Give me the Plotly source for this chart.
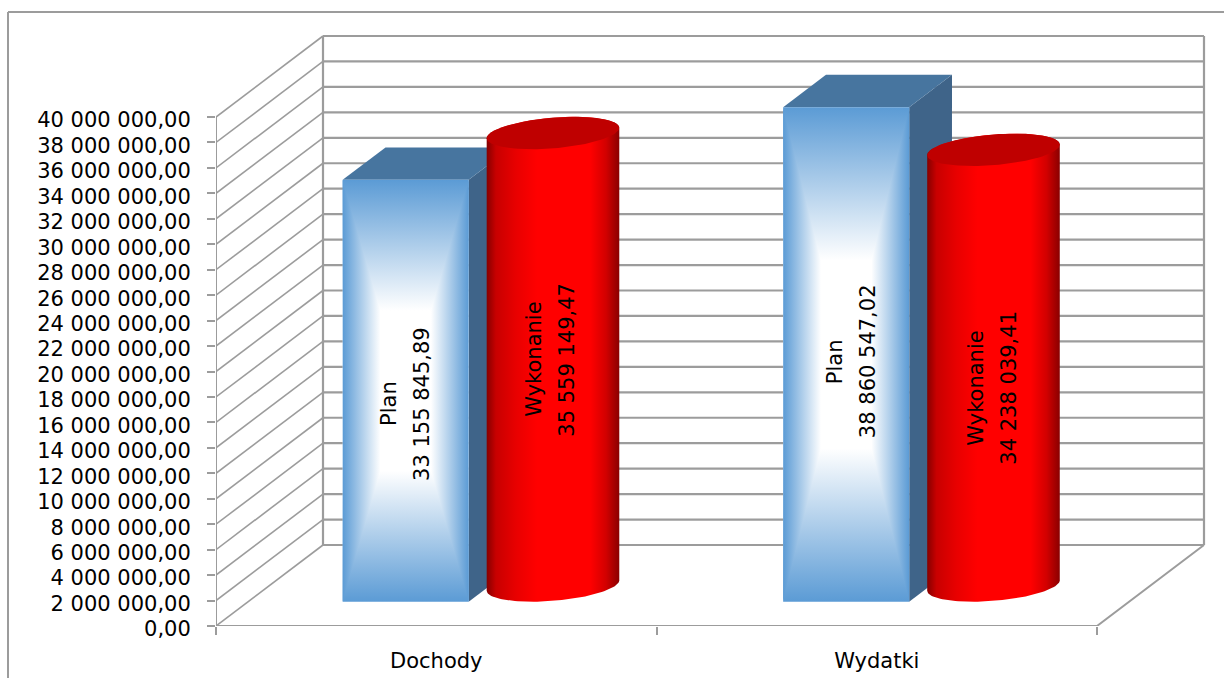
import numpy as np
import plotly.graph_objects as go

# ---------- data ----------
categories = ["Dochody", "Wydatki"]
plan_name = "Plan"
actual_name = "Wykonanie"
plan_values = [33155845.89, 38860547.02]
actual_values = [35559149.47, 34238039.41]
value_ticks = list(range(0, 40000001, 2000000))

# ---------- geometry of the pseudo-3D plot (pixels per unit) ----------
W, H = 1224, 678
PX_X0, PX_Y0 = 216, 626          # origin of the front plane
PX_PER_CAT = 440.5
PX_PER_VAL = 509 / 40e6
WALL_DX = 107 / PX_PER_CAT       # x shift of full depth, in category units
WALL_DY = 81 / PX_PER_VAL        # y shift of full depth, in value units
BAR_Z0, BAR_DZ = 0.30, 0.40      # depth where the bars start / their depth
BOX_LEFT, BOX_W = 0.2876, 0.286
CYL_CX, CYL_HALF = 0.765, 0.1505
X_MAX_PX, Y_TOP_PX = 1216, 20
x_top = (X_MAX_PX - PX_X0) / PX_PER_CAT
y_top = (PX_Y0 - Y_TOP_PX) / PX_PER_VAL
y_max = value_ticks[-1]

GRID = "#9c9c9c"
BLUE = "#5B9BD5"
BOX_TOP = "#47759F"
BOX_SIDE = "#3F6489"
CYL_TOP = "#BF0000"
CYL_SCALE = [[0, "#860000"], [0.07, "#c80000"], [0.22, "#e80000"], [0.38, "#ff0000"],
             [0.78, "#ff0000"], [0.90, "#d20000"], [1, "#8a0000"]]
FONT = "DejaVu Sans"
FS = 21
CORE_X, CORE_Y = 0.30, 0.31      # share of the front face taken by each gradient ramp
WHITE_SCALE_IN = [[0, BLUE], [1, "#ffffff"]]
WHITE_SCALE_OUT = [[0, "#ffffff"], [1, BLUE]]
UNDER_SCALE = [[0, BLUE], [CORE_Y, "#ffffff"], [1 - CORE_Y, "#ffffff"], [1, BLUE]]


def proj(x, v, z):
    return x + z * WALL_DX, v + z * WALL_DY


fig = go.Figure()


def lines(xs, ys, width=1.6, color=GRID):
    fig.add_trace(go.Scatter(x=xs, y=ys, mode="lines", line=dict(color=color, width=width),
                             hoverinfo="skip", showlegend=False, cliponaxis=False))


def poly(xs, ys, color=None, gradient=None):
    kw = dict(fillgradient=gradient) if gradient else dict(fillcolor=color)
    fig.add_trace(go.Scatter(x=list(xs) + [xs[0]], y=list(ys) + [ys[0]], mode="lines", fill="toself",
                             line=dict(width=0, color="rgba(0,0,0,0)"),
                             hoverinfo="skip", showlegend=False, cliponaxis=False, **kw))


# ---------- walls ----------
n_cat = len(categories)
bx, by = proj(0, 0, 1)
side_x, side_y, back_x, back_y = [], [], [], []
for v in value_ticks:
    x1, y1 = proj(0, v, 1)
    side_x += [0, x1, None]
    side_y += [v, y1, None]
    x2, y2 = proj(n_cat, v, 1)
    back_x += [x1, x2, None]
    back_y += [y1, y2, None]
lines(side_x, side_y, 1.6)
lines(back_x, back_y, 2.2)
tx, ty = proj(0, y_max, 1)
rx, ry = proj(n_cat, 0, 1)
rtx, rty = proj(n_cat, y_max, 1)
lines([bx, tx], [by, ty], 2.2)
lines([rx, rtx], [ry, rty], 2.2)
lines([0, 0, None, 0, n_cat, rx], [0, y_max, None, 0, 0, ry], 2.0)


# ---------- bars ----------
def box(cat, value):
    x0, x1 = cat + BOX_LEFT, cat + BOX_LEFT + BOX_W
    _, b = proj(0, 0, BAR_Z0)
    t = b + value
    # side and top faces
    x0b, tb = proj(x0, t, BAR_DZ)
    x1b, _ = proj(x1, t, BAR_DZ)
    _, bb = proj(x1, b, BAR_DZ)
    poly([x1, x1b, x1b, x1], [b, bb, tb, t], BOX_SIDE)
    poly([x0, x1, x1b, x0b], [t, t, tb, tb], BOX_TOP)
    # front face: rectangular path gradient built from an underlay, four trapezoids and a white core
    ix0, ix1 = x0 + CORE_X * BOX_W, x1 - CORE_X * BOX_W
    ib, it = b + CORE_Y * value, t - CORE_Y * value
    poly([x0, x1, x1, x0], [b, b, t, t], gradient=dict(type="vertical", colorscale=UNDER_SCALE))
    poly([x0, ix0, ix0, x0], [b, ib, it, t], gradient=dict(type="horizontal", colorscale=WHITE_SCALE_IN))
    poly([x1, ix1, ix1, x1], [b, ib, it, t], gradient=dict(type="horizontal", colorscale=WHITE_SCALE_OUT))
    return (x0 + x1) / 2, b + value / 2


def cylinder(cat, value):
    cx = cat + CYL_CX
    _, b = proj(0, 0, BAR_Z0 + BAR_DZ / 2)
    # half-axes of the oblique projection of the circular section
    sx, sy = proj(0, 0, BAR_DZ / 2)
    a = np.sqrt(CYL_HALF ** 2 - sx ** 2)
    t0 = np.arctan2(sx, a)
    lower = np.linspace(t0 + np.pi, t0 + 2 * np.pi, 60)
    upper = np.linspace(t0, t0 + np.pi, 60)
    ell = lambda t: (cx + a * np.cos(t) + sx * np.sin(t), sy * np.sin(t))
    lx, ly = ell(lower)
    ux, uy = ell(upper)
    poly(np.r_[lx, ux].tolist(), np.r_[b + ly, b + value + uy].tolist(),
         gradient=dict(type="horizontal", colorscale=CYL_SCALE))
    poly(np.r_[lx, ux].tolist(), np.r_[b + value + ly, b + value + uy].tolist(), CYL_TOP)
    return cx, b + value / 2


def fmt(v):
    return f"{v:,.2f}".replace(",", " ").replace(".", ",")


# label offsets (name line, value line share x; dx, dy in pixels)
annotations = []


def label(x, y, name, value, dx, dy):
    for text, shift in ((name, -16.5), (fmt(value), 16.5)):
        annotations.append(dict(x=x, y=y, text=text, showarrow=False, textangle=-90,
                                xshift=dx + shift, yshift=dy, xanchor="center", yanchor="middle",
                                font=dict(family=FONT, size=FS, color="#000000")))


box_shift = [(0, -13), (6, -7)]
cyl_shift = [(-2, 0), (-1, -20)]
for i in range(n_cat):
    x, y = box(i, plan_values[i])
    label(x, y, plan_name, plan_values[i], *box_shift[i])
    x, y = cylinder(i, actual_values[i])
    label(x, y, actual_name, actual_values[i], *cyl_shift[i])

# ---------- layout ----------
shapes = [
    dict(type="line", xref="paper", yref="paper", x0=8 / W, x1=8 / W, y0=0, y1=1 - 12 / H,
         line=dict(color=GRID, width=2)),
    dict(type="line", xref="paper", yref="paper", x0=8 / W, x1=1, y0=1 - 12 / H, y1=1 - 12 / H,
         line=dict(color=GRID, width=2)),
]

fig.update_layout(
    width=W, height=H, autosize=False,
    margin=dict(l=0, r=0, t=0, b=0, autoexpand=False),
    paper_bgcolor="#ffffff", plot_bgcolor="#ffffff",
    separators=", ",
    showlegend=False,
    shapes=shapes,
    annotations=annotations,
    font=dict(family=FONT, size=FS, color="#000000"),
    xaxis=dict(
        domain=[PX_X0 / W, X_MAX_PX / W], range=[0, x_top], automargin=False,
        showgrid=False, zeroline=False, showline=False,
        tickmode="array", tickvals=[i + 0.5 for i in range(n_cat)], ticktext=categories,
        ticks="", ticklabelstandoff=20,
        minor=dict(tickmode="array", tickvals=list(range(n_cat + 1)), ticks="outside", ticklen=8,
                   tickwidth=1.8, tickcolor=GRID, showgrid=False),
    ),
    yaxis=dict(
        domain=[1 - PX_Y0 / H, 1 - Y_TOP_PX / H], range=[0, y_top], automargin=False,
        showgrid=False, zeroline=False, showline=False,
        tickmode="array", tickvals=value_ticks, tickformat=",.2f",
        ticks="outside", ticklen=8, tickwidth=1.8, tickcolor=GRID, ticklabelstandoff=12,
        ticklabelshift=3,
    ),
)

fig.write_html("out.html", config=dict(displayModeBar=False),
               post_script="document.body.style.margin='0';")
